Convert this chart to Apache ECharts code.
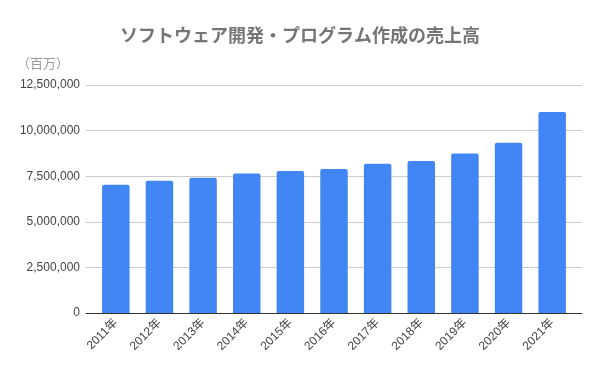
<!DOCTYPE html>
<html>
<head>
<meta charset="utf-8">
<script src="https://cdn.jsdelivr.net/npm/echarts@6/dist/echarts.min.js"></script>
<style>
  html, body { margin: 0; padding: 0; background: #fff; }
  #chart { width: 600px; height: 371px; }
</style>
</head>
<body>
<div id="chart"></div>
<script>
const titleText = 'ソフトウェア開発・プログラム作成の売上高';
const unitText = '（百万）';
const categories = ['2011年','2012年','2013年','2014年','2015年','2016年','2017年','2018年','2019年','2020年','2021年'];
const sales = [7030000, 7250000, 7410000, 7650000, 7790000, 7900000, 8180000, 8340000, 8740000, 9330000, 11020000];
const yMin = 0;
const yMax = 12500000;
const yInterval = 2500000;

const latin = '"Liberation Sans", Arial, "Noto Sans CJK JP", sans-serif';
const cjk = '"Noto Sans CJK JP", "Liberation Sans", sans-serif';

const chart = echarts.init(document.getElementById('chart'), null, { renderer: 'canvas' });
chart.setOption({
  animation: false,
  backgroundColor: '#ffffff',
  title: [
    {
      text: titleText,
      left: 'center',
      top: 19,
      textStyle: { fontFamily: cjk, fontSize: 18, fontWeight: 'bold', color: '#757575', lineHeight: 22 }
    },
    {
      text: unitText,
      left: 12,
      top: 51,
      textStyle: { fontFamily: cjk, fontSize: 13, fontWeight: 'normal', color: '#999999', lineHeight: 15 }
    }
  ],
  grid: [
    { left: 86, right: 18, top: 85, bottom: 58, containLabel: false },
    { left: 94, right: 26, top: 85, bottom: 58, containLabel: false }
  ],
  xAxis: [
    {
      gridIndex: 0,
      type: 'category',
      data: categories,
      axisLine: { show: true, lineStyle: { color: '#333333', width: 1 } },
      axisTick: { show: false },
      axisLabel: { show: false },
      splitLine: { show: false }
    },
    {
      gridIndex: 1,
      type: 'category',
      data: categories,
      axisLine: { show: false },
      axisTick: { show: false },
      axisLabel: {
        rotate: 45,
        margin: 8,
        color: '#444444',
        fontSize: 12,
        fontFamily: latin
      }
    }
  ],
  yAxis: [
    {
      gridIndex: 0,
      type: 'value',
      min: yMin,
      max: yMax,
      interval: yInterval,
      axisLine: { show: false },
      axisTick: { show: false },
      axisLabel: {
        color: '#444444',
        fontSize: 12,
        fontFamily: latin,
        margin: 6,
        formatter: v => v.toLocaleString('en-US')
      },
      splitLine: { show: true, lineStyle: { color: '#cccccc', width: 1 } }
    },
    {
      gridIndex: 1,
      type: 'value',
      min: yMin,
      max: yMax,
      interval: yInterval,
      show: false,
      splitLine: { show: false }
    }
  ],
  series: [
    {
      type: 'bar',
      xAxisIndex: 1,
      yAxisIndex: 1,
      data: sales,
      barCategoryGap: '37%',
      itemStyle: { color: '#4285F4', borderRadius: [2, 2, 0, 0] },
      z: 3
    }
  ]
});
</script>
</body>
</html>
